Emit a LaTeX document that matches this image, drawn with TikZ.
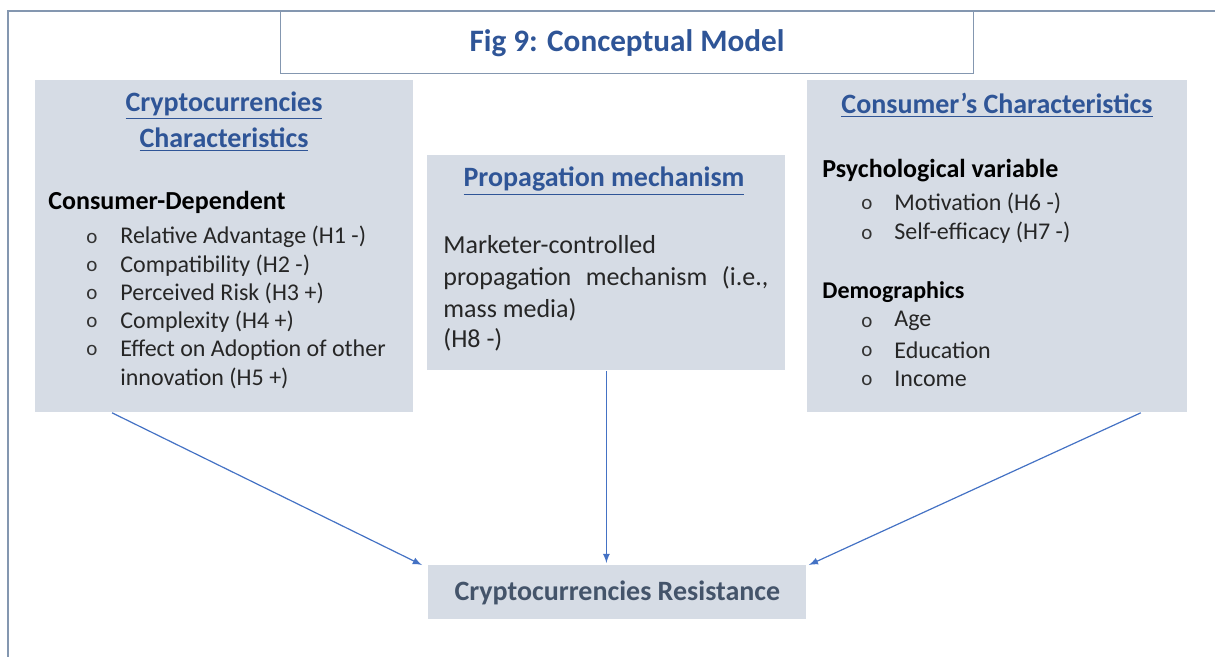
\documentclass[tikz,border=0pt]{standalone}
\usepackage{fontspec}
\setmainfont{Carlito}
\definecolor{boxfill}{HTML}{D6DCE5}
\definecolor{headblue}{HTML}{2F5597}
\definecolor{resgray}{HTML}{44546A}
\definecolor{arrowblue}{HTML}{4472C4}
\definecolor{framegray}{HTML}{8497B0}
\tikzset{
  panel/.style={fill=boxfill, inner sep=0pt, anchor=north west},
  head/.style={font=\bfseries\fontsize{14}{16}\selectfont, text=headblue},
  sub/.style={font=\bfseries\fontsize{13}{15}\selectfont, anchor=west, inner sep=0pt},
  item/.style={font=\fontsize{12}{14}\selectfont, anchor=west, inner sep=0pt, text=black!85},
  dot/.style={font=\fontsize{10.5}{12}\selectfont, anchor=west, inner sep=0pt, text=black!80},
  body/.style={font=\fontsize{13}{15}\selectfont, anchor=west, inner sep=0pt, text=black!85},
  arr/.style={-latex, draw=arrowblue, line width=0.6pt}
}
\begin{document}
\begin{tikzpicture}[x=0.5pt, y=-0.5pt]
  \useasboundingbox (0,0) rectangle (1215,657);
  % outer frame and title
  \draw[framegray, line width=1.4pt] (8,670) -- (8,11) -- (1230,11);
  \node[draw=framegray, line width=0.5pt, minimum width=346.5pt, minimum height=31pt, inner sep=0pt,
        font=\bfseries\fontsize{15.6}{18}\selectfont, text=headblue] (title) at (627,43) {Fig 9: Conceptual Model};

  % the four panels
  \node[panel, minimum width=189pt, minimum height=166pt] (crypto) at (35,80) {};
  \node[panel, minimum width=179pt, minimum height=107.5pt] (prop) at (427,155) {};
  \node[panel, minimum width=190pt, minimum height=166pt] (cons) at (807,80) {};
  \node[panel, minimum width=189pt, minimum height=27pt] (res) at (428,565) {};
  \node[font=\bfseries\fontsize{14}{16}\selectfont, text=resgray] (restxt) at (res.center) {Cryptocurrencies Resistance};

  % left panel
  \node[head] (crh1) at (224,106) {\underline{Cryptocurrencies}};
  \node[head] (crh2) at (224,140) {\underline{Characteristics}};
  \node[sub] (cdep) at (48,202) {Consumer-Dependent};
  \foreach \txt [count=\i] in {Relative Advantage (H1 -), Compatibility (H2 -), Perceived Risk (H3 +),
      Complexity (H4 +), Effect on Adoption of other}{
    \node[dot] (cb\i) at (86,238+28.2*\i-28.2) {o};
    \node[item] (ci\i) at (120,237+28.2*\i-28.2) {\txt};
  }
  \node[item] (ci6) at (120,378) {innovation (H5 +)};

  % middle panel
  \node[head] (prh) at (604,181) {\underline{Propagation mechanism}};
  \node[body] (pm1) at (443,245) {Marketer-controlled};
  \node[body, text width=162.5pt] (pm2) at (443,278) {propagation\hfill mechanism\hfill (i.e.,};
  \node[body] (pm3) at (443,310) {mass media)};
  \node[body] (pm4) at (443,340) {(H8 -)};

  % right panel
  \node[head] (coh) at (997,105) {\underline{Consumer’s Characteristics}};
  \node[sub] (psy) at (822,171) {Psychological variable};
  \node[dot] (mb1) at (861,204) {o};
  \node[item] (mi1) at (894,203) {Motivation (H6 -)};
  \node[dot] (mb2) at (861,234) {o};
  \node[item] (mi2) at (894,233) {Self-efficacy (H7 -)};
  \node[sub, font=\bfseries\fontsize{12}{14}\selectfont] (demo) at (822,292) {Demographics};
  \foreach \txt/\yy [count=\i] in {Age/321, Education/350, Income/379}{
    \node[dot] (db\i) at (861,\yy+1) {o};
    \node[item] (di\i) at (894,\yy) {\txt};
  }

  % connectors
  \draw[arr] ([xshift=38.5pt]crypto.south west) -- ([xshift=-3pt]res.north west);
  \draw[arr] (prop.south) -- ([yshift=1pt]res.north -| prop.south);
  \draw[arr] ([xshift=-23.5pt]cons.south east) -- ([xshift=1pt]res.north east);
\end{tikzpicture}
\end{document}
